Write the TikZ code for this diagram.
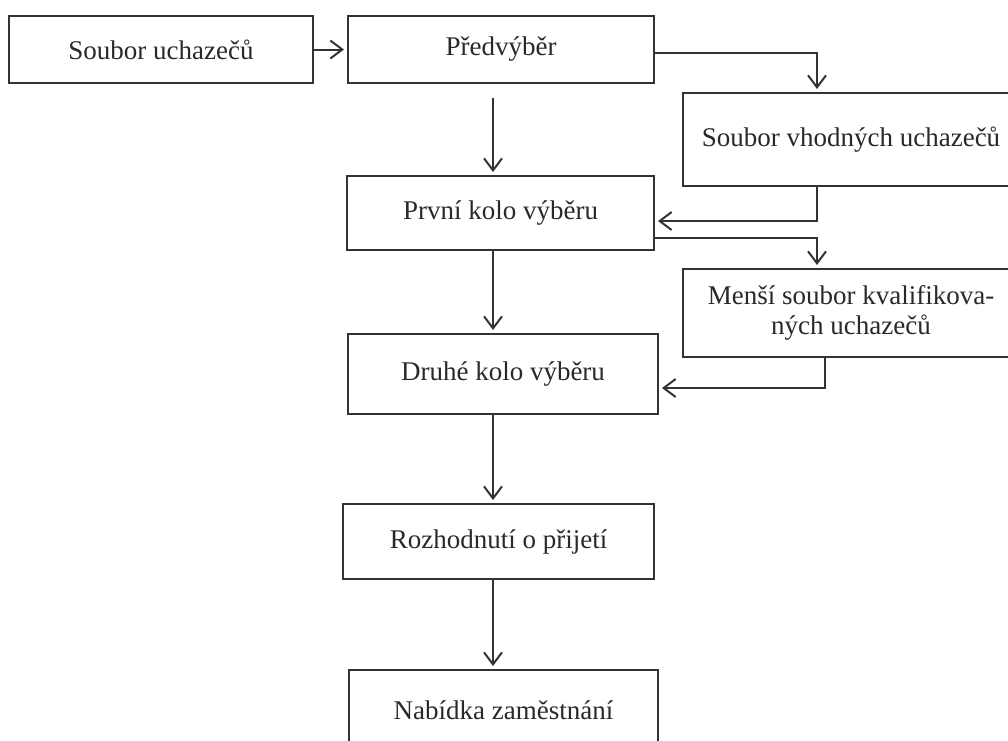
\documentclass[tikz,border=0pt]{standalone}
\usepackage{fontspec}
\setmainfont{Liberation Serif}
\usetikzlibrary{arrows.meta}
\definecolor{ink}{HTML}{333333}
\begin{document}
\begin{tikzpicture}[x=1pt,y=-1pt,
  box/.style={draw=ink, line width=2pt, inner sep=0pt, text=ink!80!black,
    font=\fontsize{27pt}{30pt}\selectfont, align=center},
  arr/.style={draw=ink, line width=2pt, -{Straight Barb[length=12pt,width=18pt]}, shorten >=3pt}]
\clip (0,0) rectangle (1008,740);
\node[box, minimum width=304pt, minimum height=67pt] (A) at (161,49.5) {Soubor uchazečů};
\node[box, minimum width=306pt, minimum height=67pt] (B) at (501,49.5) {Předvýběr};
\node[box, minimum width=336pt, minimum height=93pt] (C) at (851,139.5) {Soubor vhodných uchazečů};
\node[box, minimum width=307pt, minimum height=74pt] (D) at (500.5,213) {První kolo výběru};
\node[box, minimum width=336pt, minimum height=88pt] (E) at (851,313) {Menší soubor kvalifikova-\\ných uchazečů};
\node[box, minimum width=310pt, minimum height=80pt] (F) at (503,374) {Druhé kolo výběru};
\node[box, minimum width=311pt, minimum height=75pt] (G) at (498.5,541.5) {Rozhodnutí o přijetí};
\node[box, minimum width=309pt, minimum height=80pt] (H) at (503.5,710) {Nabídka zaměstnání};
% connectors
\draw[arr] (A.east) -- (B.west);
\draw[arr] ([xshift=-8pt,yshift=-14pt]B.south) -- ([xshift=-8pt]B.south |- D.north);
\draw[arr] ([yshift=-3.5pt]B.east) -| ([xshift=-34pt]C.north);
\draw[arr] ([xshift=-34pt]C.south) |- ([yshift=-8pt]D.east);
\draw[arr] ([yshift=-25pt]D.east) -| ([xshift=-34pt]E.north);
\draw[arr] ([xshift=-26pt]E.south) |- ([yshift=-14pt]F.east);
\draw[arr] ([xshift=-7.5pt]D.south) -- ([xshift=-7.5pt]D.south |- F.north);
\draw[arr] ([xshift=-10pt]F.south) -- ([xshift=-10pt]F.south |- G.north);
\draw[arr] ([xshift=-5.5pt]G.south) -- ([xshift=-5.5pt]G.south |- H.north);
\end{tikzpicture}
\end{document}
